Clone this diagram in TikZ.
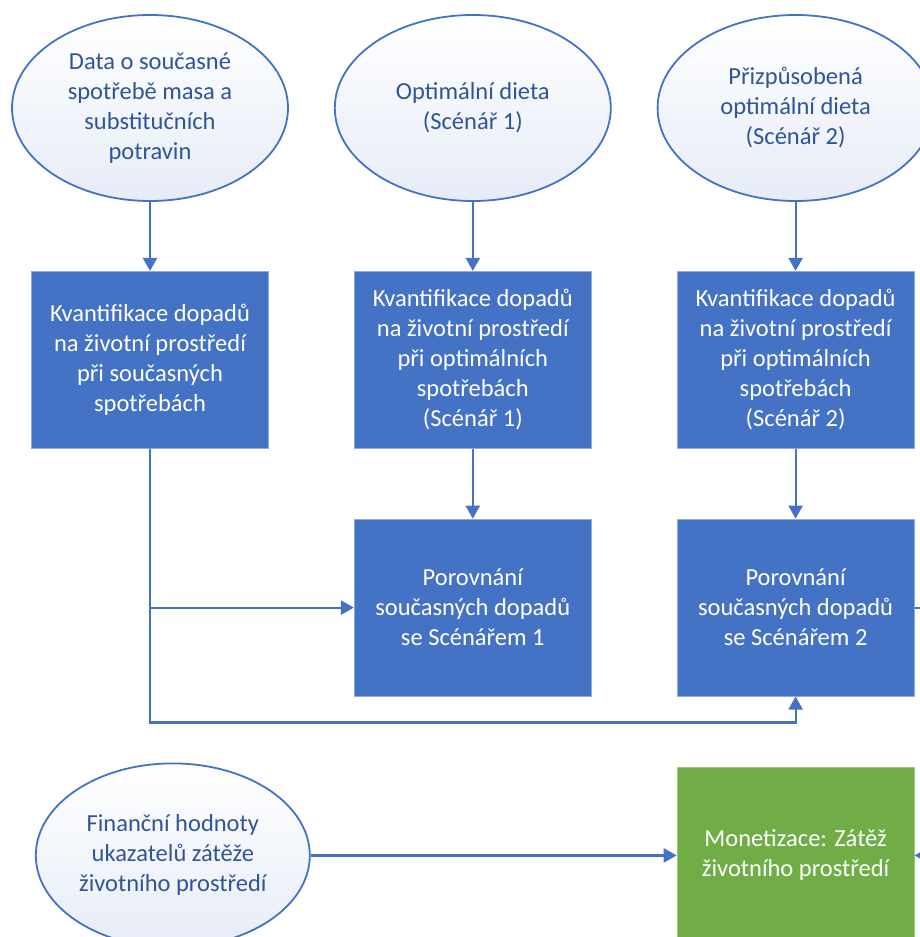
\documentclass[tikz,border=0pt]{standalone}
\usepackage{fontspec}
\setmainfont{Carlito}
\usepackage{xcolor}
\usepackage{tikz}
\usetikzlibrary{shapes.geometric,arrows.meta,positioning,calc}

\definecolor{accent}{HTML}{4472C4}
\definecolor{edgeblue}{HTML}{8EA9DB}
\definecolor{inkblue}{HTML}{2F5597}
\definecolor{paleblue}{HTML}{E6ECF7}
\definecolor{leaf}{HTML}{70AD47}

\begin{document}
\begin{tikzpicture}[
  x=1pt, y=1pt,
  node distance = 70pt,
  source/.style = {ellipse, draw=accent, line width=1.8pt,
                   top color=white, bottom color=paleblue,
                   text=inkblue, minimum width=276pt, minimum height=186pt,
                   align=center, inner sep=0pt,
                   font=\fontsize{24.5}{30}\selectfont},
  calcbox/.style = {draw=edgeblue, line width=0.8pt, fill=accent, text=white,
                   minimum width=237pt, minimum height=177pt,
                   align=center, inner sep=0pt,
                   font=\fontsize{24.5}{30}\selectfont},
  moneybox/.style = {calcbox, fill=leaf, draw=leaf!70!white},
  arr/.style    = {-{Triangle[length=13pt, width=14pt]}, draw=accent, line width=2.2pt},
]

\path[use as bounding box, fill=white] (0,0) rectangle (920,-937);
\clip (0,0) rectangle (920,-937);

%% ─── input ellipses ───────────────────────────────────────────────────────
\node[source] (data) at (150,-108) {Data o současné\\spotřebě masa a\\substitučních\\potravin};
\node[source, right=45pt of data] (opt1) {Optimální dieta\\(Scénář 1)};
\node[source, right=45pt of opt1] (opt2) {Přizpůsobená\\optimální dieta\\(Scénář 2)};

%% ─── quantification ───────────────────────────────────────────────────────
\node[calcbox, below=69pt of data] (kvnow) {Kvantifikace dopadů\\na životní prostředí\\při současných\\spotřebách};
\node[calcbox, below=69pt of opt1] (kv1) {Kvantifikace dopadů\\na životní prostředí\\při optimálních\\spotřebách\\(Scénář 1)};
\node[calcbox, below=69pt of opt2] (kv2) {Kvantifikace dopadů\\na životní prostředí\\při optimálních\\spotřebách\\(Scénář 2)};

%% ─── comparison ───────────────────────────────────────────────────────────
\node[calcbox, below=of kv1] (por1) {Porovnání\\současných dopadů\\se Scénářem 1};
\node[calcbox, below=of kv2] (por2) {Porovnání\\současných dopadů\\se Scénářem 2};

%% ─── monetisation ─────────────────────────────────────────────────────────
\node[moneybox, below=of por2] (money) {Monetizace: Zátěž\\životního prostředí};
\node[source, minimum width=274pt, minimum height=184pt,
      left=366pt of money] (fin) {Finanční hodnoty\\ukazatelů zátěže\\životního prostředí};

%% ─── arrows ───────────────────────────────────────────────────────────────
\foreach \a/\b in {data/kvnow, opt1/kv1, opt2/kv2, kv1/por1, kv2/por2, fin/money}
  \draw[arr] (\a)--(\b);
\draw[arr] (kvnow.south) |- (por1.west);
\draw[arr] (kvnow.south) |- ([yshift=-26pt]por1.south) -| (por2.south);
\draw[arr] (por2.east) -- ++(30,0) |- (money.east);

\end{tikzpicture}
\end{document}
